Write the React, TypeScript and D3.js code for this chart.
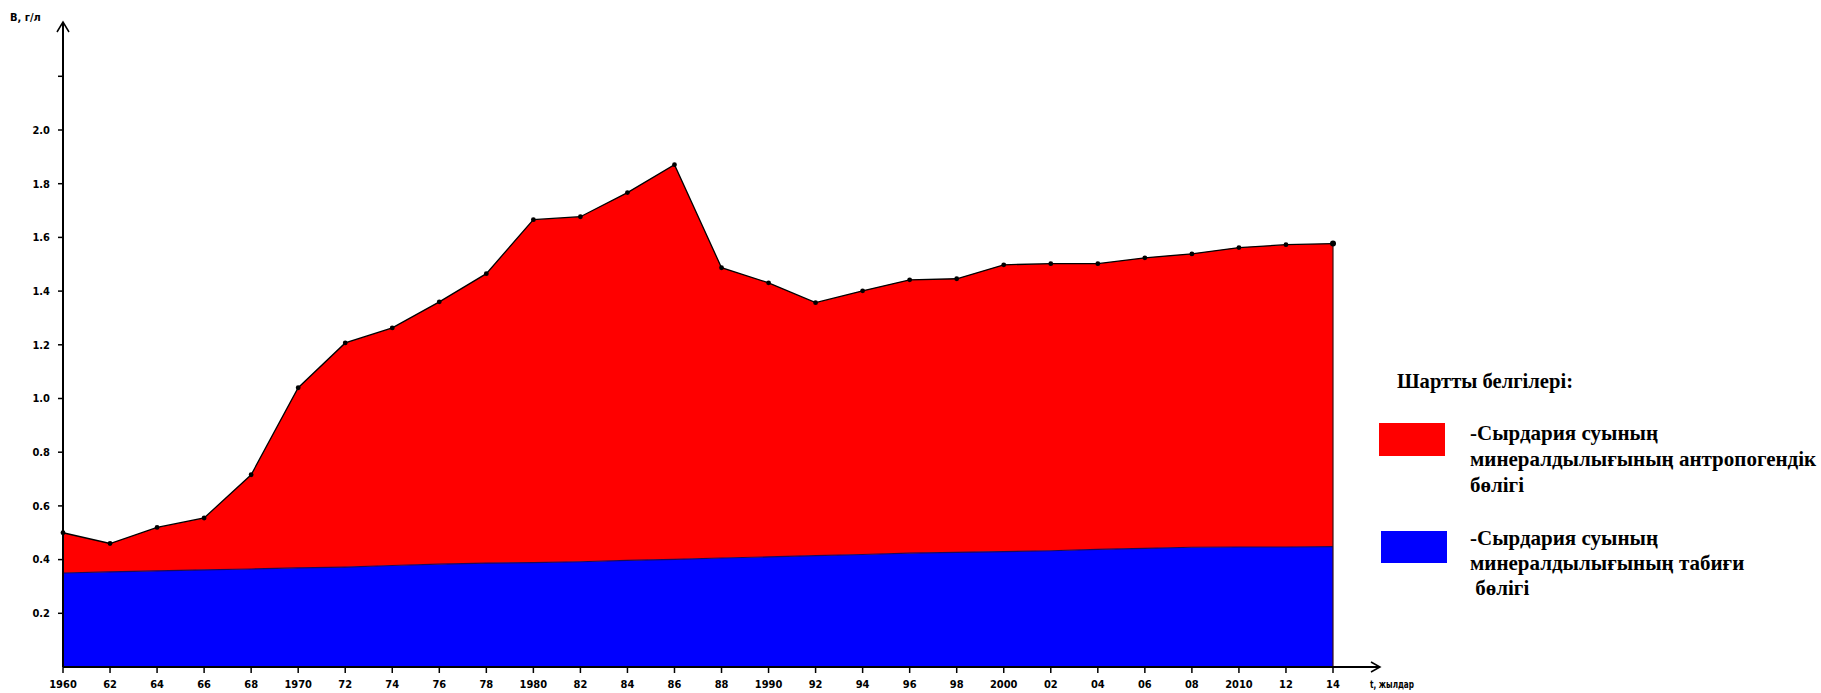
import React from "react";
import * as d3 from "d3";

// years on the x axis, every 2 years
const years = [
  1960, 1962, 1964, 1966, 1968, 1970, 1972, 1974, 1976, 1978,
  1980, 1982, 1984, 1986, 1988, 1990, 1992, 1994, 1996, 1998,
  2000, 2002, 2004, 2006, 2008, 2010, 2012, 2014,
];

// total mineralization, g/l (top of red area)
const totalValues = [
  0.50, 0.46, 0.52, 0.555, 0.716, 1.04, 1.207, 1.263, 1.36, 1.465,
  1.666, 1.677, 1.767, 1.871, 1.487, 1.431, 1.357, 1.401, 1.442, 1.446,
  1.498, 1.502, 1.502, 1.524, 1.539, 1.562, 1.573, 1.577,
];

// natural part, g/l (top of blue area)
const naturalValues = [
  0.350, 0.354, 0.358, 0.362, 0.365, 0.369, 0.372, 0.378, 0.383, 0.387,
  0.389, 0.392, 0.397, 0.401, 0.406, 0.410, 0.415, 0.419, 0.424, 0.427,
  0.430, 0.433, 0.438, 0.442, 0.446, 0.447, 0.447, 0.448,
];

const xTickLabels = [
  "1960", "62", "64", "66", "68", "1970", "72", "74", "76", "78",
  "1980", "82", "84", "86", "88", "1990", "92", "94", "96", "98",
  "2000", "02", "04", "06", "08", "2010", "12", "14",
];

const yTicks = [0.2, 0.4, 0.6, 0.8, 1.0, 1.2, 1.4, 1.6, 1.8, 2.0, 2.2];
const yTickLabels = ["0.2", "0.4", "0.6", "0.8", "1.0", "1.2", "1.4", "1.6", "1.8", "2.0", ""];

const legendTitle = "Шартты белгілері:";
const legendRed = ["-Сырдария суының", "минералдылығының антропогендік", "бөлігі"];
const legendBlue = ["-Сырдария суының", "минералдылығының табиғи", " бөлігі"];

const W = 1821;
const H = 693;
const axisFont = "'DejaVu Sans Condensed', 'DejaVu Sans', sans-serif";
const legendFont = "'Liberation Serif', 'DejaVu Serif', serif";

export default function App() {
  const x = d3.scaleLinear().domain([1960, 2014]).range([63, 1333]);
  const y = d3.scaleLinear().domain([0, 2]).range([667, 130]);

  const data = years.map((yr, i) => ({
    year: yr,
    total: totalValues[i],
    natural: naturalValues[i],
  }));

  const blueArea = d3.area<typeof data[0]>()
    .x((d) => x(d.year))
    .y0(y(0))
    .y1((d) => y(d.natural));

  const redArea = d3.area<typeof data[0]>()
    .x((d) => x(d.year))
    .y0((d) => y(d.natural))
    .y1((d) => y(d.total));

  const topLine = d3.line<typeof data[0]>()
    .x((d) => x(d.year))
    .y((d) => y(d.total));

  const naturalLine = d3.line<typeof data[0]>()
    .x((d) => x(d.year))
    .y((d) => y(d.natural));

  const x0 = x(1960);
  const y0 = y(0);
  const last = data[data.length - 1];

  return (
    <svg
      width={W}
      height={H}
      style={{ position: "absolute", left: 0, top: 0, background: "#fff" }}
    >
      <rect x={0} y={0} width={W} height={H} fill="#fff" />

      {/* areas */}
      <path d={blueArea(data) || ""} fill="#0000ff" />
      <path d={redArea(data) || ""} fill="#ff0000" />
      <path d={naturalLine(data) || ""} fill="none" stroke="#1a0a5a" strokeWidth={1.2} />
      <path d={topLine(data) || ""} fill="none" stroke="#000" strokeWidth={1.3} />
      <line
        x1={x(last.year)} x2={x(last.year)}
        y1={y(last.total)} y2={y0}
        stroke="#3a1010" strokeWidth={1.2}
      />
      {data.map((d) => (
        <circle key={d.year} cx={x(d.year)} cy={y(d.total)} r={d.year === 2014 ? 3 : 2.4} fill="#000" />
      ))}

      {/* y axis */}
      <line x1={x0} x2={x0} y1={y0} y2={22} stroke="#000" strokeWidth={2} />
      <path d={`M${x0 - 6},${32} L${x0},${22} L${x0 + 6},${32}`} fill="none" stroke="#000" strokeWidth={1.5} />
      {yTicks.map((t, i) => (
        <g key={t}>
          <line x1={x0 - 5} x2={x0} y1={y(t)} y2={y(t)} stroke="#000" strokeWidth={1.5} />
          <text
            x={x0 - 13}
            y={y(t)}
            dy="0.35em"
            textAnchor="end"
            fontFamily={axisFont}
            fontWeight="bold"
            fontSize={11}
            fill="#000"
          >
            {yTickLabels[i]}
          </text>
        </g>
      ))}
      <text x={10} y={21} fontFamily={axisFont} fontWeight="bold" fontSize={11} fill="#000">
        В, г/л
      </text>

      {/* x axis */}
      <line x1={x0} x2={1380} y1={y0} y2={y0} stroke="#000" strokeWidth={2} />
      <path d={`M1371,${y0 - 5} L1380,${y0} L1371,${y0 + 5}`} fill="none" stroke="#000" strokeWidth={1.5} />
      {years.map((yr, i) => (
        <g key={yr}>
          <line x1={x(yr)} x2={x(yr)} y1={y0} y2={y0 + 6} stroke="#000" strokeWidth={1.5} />
          <text
            x={x(yr)}
            y={688}
            textAnchor="middle"
            fontFamily={axisFont}
            fontWeight="bold"
            fontSize={11}
            fill="#000"
          >
            {xTickLabels[i]}
          </text>
        </g>
      ))}
      <text
        x={1370}
        y={688}
        fontFamily={axisFont}
        fontWeight="bold"
        fontSize={10}
        fill="#000"
        textLength={44}
        lengthAdjust="spacingAndGlyphs"
      >
        t, жылдар
      </text>

      {/* legend */}
      <text
        x={1397}
        y={388}
        fontFamily={legendFont}
        fontWeight="bold"
        fontSize={22}
        fill="#000"
        textLength={176}
        lengthAdjust="spacingAndGlyphs"
      >
        {legendTitle}
      </text>
      <rect x={1379} y={423} width={66} height={33} fill="#ff0000" />
      {legendRed.map((s, i) => (
        <text
          key={i}
          x={1470}
          y={440 + i * 26}
          fontFamily={legendFont}
          fontWeight="bold"
          fontSize={21}
          fill="#000"
        >
          {s}
        </text>
      ))}
      <rect x={1381} y={531} width={66} height={32} fill="#0000ff" />
      {legendBlue.map((s, i) => (
        <text
          key={i}
          x={1470}
          y={545 + i * 25}
          fontFamily={legendFont}
          fontWeight="bold"
          fontSize={21}
          fill="#000"
          style={{ whiteSpace: "pre" }}
        >
          {s}
        </text>
      ))}
    </svg>
  );
}
